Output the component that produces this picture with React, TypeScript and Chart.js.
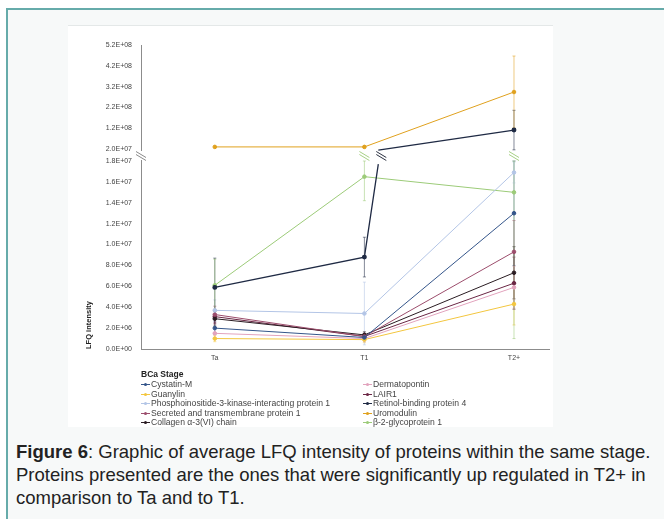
import React, { useEffect, useRef } from 'react';
import { Chart, registerables } from 'chart.js';

Chart.register(...registerables);

// ---------- data ----------
const stages = ['Ta', 'T1', 'T2+'];
const stagePositions = [0, 1, 2];
const lowTicks = [0, 2e6, 4e6, 6e6, 8e6, 1e7, 1.2e7, 1.4e7, 1.6e7, 1.8e7];
const highTicks = [2e7, 1.2e8, 2.2e8, 3.2e8, 4.2e8, 5.2e8];

const proteinNames = [
  'Cystatin-M',
  'Guanylin',
  'Phosphoinositide-3-kinase-interacting protein 1',
  'Secreted and transmembrane protein 1',
  'Collagen α-3(VI) chain',
  'Dermatopontin',
  'LAIR1',
  'Retinol-binding protein 4',
  'Uromodulin',
  'β-2-glycoprotein 1',
];
const proteinColors = [
  '#34558a',
  '#f3c63f',
  '#b3c5e6',
  '#9c4d6c',
  '#2a1c22',
  '#e2a3bd',
  '#6b2745',
  '#1f2a44',
  '#e0a11e',
  '#9ccb78',
];

const cystatinM = [2.0e6, 1.1e6, 13.0e6];
const guanylin = [1.0e6, 0.9e6, 4.3e6];
const pik3ip1 = [3.7e6, 3.4e6, 16.9e6];
const secretedTm1 = [3.3e6, 1.2e6, 9.3e6];
const collagenA3 = [2.9e6, 1.35e6, 7.3e6];
const dermatopontin = [1.5e6, 1.0e6, 5.9e6];
const lair1 = [3.1e6, 1.2e6, 6.3e6];
const retinolBP4 = [5.9e6, 8.8e6, 1.11e8];
const uromodulin = [3.0e7, 3.0e7, 2.94e8];
const beta2gp1 = [6.1e6, 16.5e6, 15.0e6];

const cystatinMErr = [0.6e6, 0.3e6, 5e6];
const guanylinErr = [0.3e6, 0.3e6, 2.0e6];
const pik3ip1Err = [1.0e6, 3.0e6, 1.0e6];
const secretedTm1Err = [0.8e6, 0.3e6, 3e6];
const collagenA3Err = [0.7e6, 0.3e6, 2.5e6];
const dermatopontinErr = [0.5e6, 0.3e6, 2e6];
const lair1Err = [0.7e6, 0.3e6, 2.5e6];
const retinolBP4Err = [2.8e6, 1.9e6, 0.95e8];
const uromodulinErr = [0, 0.6e7, 1.73e8];
const beta2gp1Err = [2.5e6, 2.3e6, 14e6];

// where the Retinol-binding protein 4 line crosses the axis break
const retinolBreakX = 1.093;
const retinolBreakLow = 1.77e7;
const retinolBreakHigh = 1.5e7;
const highClampMin = 1.5e7;

const seriesValues = [cystatinM, guanylin, pik3ip1, secretedTm1, collagenA3, dermatopontin, lair1, retinolBP4, uromodulin, beta2gp1];
const seriesErrors = [cystatinMErr, guanylinErr, pik3ip1Err, secretedTm1Err, collagenA3Err, dermatopontinErr, lair1Err, retinolBP4Err, uromodulinErr, beta2gp1Err];

const captionBold = 'Figure 6';
const captionText = ': Graphic of average LFQ intensity of proteins within the same stage. Proteins presented are the ones that were significantly up regulated in T2+ in comparison to Ta and to T1.';

const FONT = '"Liberation Sans", Arial, sans-serif';

function fmtExp(v: number): string {
  const s = v.toExponential(1).split('e');
  const sign = s[1][0];
  const digits = s[1].slice(1).padStart(2, '0');
  return s[0] + 'E' + sign + digits;
}

function alpha(hex: string, a: number): string {
  const r = parseInt(hex.slice(1, 3), 16);
  const g = parseInt(hex.slice(3, 5), 16);
  const b = parseInt(hex.slice(5, 7), 16);
  return `rgba(${r},${g},${b},${a})`;
}

function drawBreak(ctx: CanvasRenderingContext2D, x: number, y: number, color: string) {
  ctx.save();
  ctx.strokeStyle = color;
  ctx.lineWidth = 1;
  for (const dy of [-1.5, 1.5]) {
    ctx.beginPath();
    ctx.moveTo(x - 5, y + dy - 3);
    ctx.lineTo(x + 5, y + dy + 3);
    ctx.stroke();
  }
  ctx.restore();
}

const errorBarPlugin = {
  id: 'errorBars',
  beforeDatasetsDraw(chart: any) {
    const ctx = chart.ctx as CanvasRenderingContext2D;
    chart.data.datasets.forEach((ds: any, di: number) => {
      const errs = ds.errors as number[] | undefined;
      if (!errs) return;
      const meta = chart.getDatasetMeta(di);
      const ys = chart.scales[ds.yAxisID];
      const lo = ds.yAxisID === 'yHigh' ? highClampMin : ys.min;
      const hi = ys.max;
      ds.data.forEach((p: any, i: number) => {
        const e = errs[i];
        if (!e) return;
        const x = meta.data[i].x;
        const topV = Math.min(p.y + e, hi);
        const botV = Math.max(p.y - e, lo);
        const yT = ys.getPixelForValue(topV);
        const yB = ys.getPixelForValue(botV);
        ctx.save();
        ctx.strokeStyle = alpha(ds.borderColor, 0.55);
        ctx.lineWidth = 1;
        ctx.beginPath();
        ctx.moveTo(x, yT);
        ctx.lineTo(x, yB);
        ctx.moveTo(x - 1.5, yT);
        ctx.lineTo(x + 1.5, yT);
        ctx.moveTo(x - 1.5, yB);
        ctx.lineTo(x + 1.5, yB);
        ctx.stroke();
        ctx.restore();
        if (p.y + e > hi && ds.yAxisID === 'yLow') {
          drawBreak(ctx, x, yT - 5, alpha(ds.borderColor, 0.9));
        }
      });
    });
  },
};

const axisBreakPlugin = {
  id: 'axisBreak',
  afterDraw(chart: any) {
    const ctx = chart.ctx as CanvasRenderingContext2D;
    const yLow = chart.scales.yLow;
    const x = chart.chartArea.left;
    const yb = yLow.top;
    ctx.save();
    ctx.fillStyle = '#ffffff';
    ctx.fillRect(x - 2, yb - 10, 4, 9);
    ctx.restore();
    drawBreak(ctx, x, yb - 5, '#8a8a8a');
    const xs = chart.scales.x;
    drawBreak(ctx, xs.getPixelForValue(retinolBreakX) + 3, yb - 5, '#2a3040');
  },
};

export default function App() {
  const ref = useRef<HTMLCanvasElement | null>(null);

  useEffect(() => {
    if (!ref.current) return;
    const datasets: any[] = [];
    proteinNames.forEach((name, si) => {
      const vals = seriesValues[si];
      const errs = seriesErrors[si];
      const color = proteinColors[si];
      const base = {
        borderColor: color,
        backgroundColor: color,
        borderWidth: 1,
        pointRadius: 1.8,
        pointHoverRadius: 1.8,
        tension: 0,
      };
      if (name === 'Retinol-binding protein 4') {
        datasets.push({
          ...base,
          label: name,
          yAxisID: 'yLow',
          borderWidth: 1.3,
          data: [
            { x: stagePositions[0], y: vals[0] },
            { x: stagePositions[1], y: vals[1] },
            { x: retinolBreakX, y: retinolBreakLow },
          ],
          pointRadius: [1.8, 1.8, 0],
          errors: [errs[0], errs[1], 0],
        });
        datasets.push({
          ...base,
          label: name + ' ',
          yAxisID: 'yHigh',
          borderWidth: 1.3,
          data: [
            { x: retinolBreakX, y: retinolBreakHigh },
            { x: stagePositions[2], y: vals[2] },
          ],
          pointRadius: [0, 1.8],
          errors: [0, errs[2]],
        });
      } else {
        datasets.push({
          ...base,
          label: name,
          yAxisID: name === 'Uromodulin' ? 'yHigh' : 'yLow',
          data: stagePositions.map((x, i) => ({ x, y: vals[i] })),
          errors: errs,
        });
      }
    });

    const tickFont = { family: FONT, size: 7 };
    const chart = new Chart(ref.current, {
      type: 'line',
      data: { datasets },
      plugins: [errorBarPlugin, axisBreakPlugin],
      options: {
        animation: false,
        responsive: false,
        devicePixelRatio: 1,
        layout: { padding: { top: 19, right: 2, left: 0, bottom: 0 } },
        plugins: {
          legend: { display: false },
          tooltip: { enabled: false },
        },
        scales: {
          x: {
            type: 'linear',
            min: -0.4933,
            max: 2.24,
            afterBuildTicks: (s: any) => {
              s.ticks = stagePositions.map((v) => ({ value: v }));
            },
            afterFit: (s: any) => {
              s.height = 31;
            },
            ticks: {
              callback: (v: any) => {
                const i = stagePositions.indexOf(Number(v));
                return i >= 0 ? stages[i] : '';
              },
              font: tickFont,
              color: '#444',
              padding: 5,
              maxRotation: 0,
              autoSkip: false,
            },
            grid: { display: false, drawTicks: false },
            border: { color: '#8c8c8c', width: 1 },
            title: {
              display: true,
              text: 'BCa Stage',
              align: 'start',
              color: '#222',
              font: { family: FONT, size: 8.5, weight: 'bold' },
              padding: { top: 0, bottom: 0 },
            },
          },
          yLow: {
            type: 'linear',
            position: 'left',
            stack: 'y',
            stackWeight: 188,
            min: 0,
            max: 1.8e7,
            afterBuildTicks: (s: any) => {
              s.ticks = lowTicks.map((v) => ({ value: v }));
            },
            afterFit: (s: any) => {
              s.width = 73;
            },
            ticks: {
              callback: (v: any) => fmtExp(Number(v)),
              font: tickFont,
              color: '#444',
              padding: 9,
            },
            grid: { display: false, drawTicks: false },
            border: { color: '#8c8c8c', width: 1 },
            title: {
              display: true,
              text: 'LFQ intensity',
              align: 'start',
              color: '#222',
              font: { family: FONT, size: 7.5, weight: 'bold' },
              padding: { top: 16, bottom: 0 },
            },
          },
          yHigh: {
            type: 'linear',
            position: 'left',
            stack: 'y',
            stackWeight: 116,
            min: -3.77e7,
            max: 5.2e8,
            afterBuildTicks: (s: any) => {
              s.ticks = highTicks.map((v) => ({ value: v }));
            },
            afterFit: (s: any) => {
              s.width = 73;
            },
            ticks: {
              callback: (v: any) => fmtExp(Number(v)),
              font: tickFont,
              color: '#444',
              padding: 9,
            },
            grid: { display: false, drawTicks: false },
            border: { color: '#8c8c8c', width: 1 },
          },
        },
      } as any,
    });
    return () => chart.destroy();
  }, []);

  const legendRow = (si: number) => (
    <div key={si} style={{ height: 9.5, display: 'flex', alignItems: 'center' }}>
      <div style={{ position: 'relative', width: 9, height: 9.5, marginRight: 1 }}>
        <div style={{ position: 'absolute', left: 0, right: 0, top: 4.25, height: 1, background: proteinColors[si] }} />
        <div style={{ position: 'absolute', left: 3, top: 3.25, width: 3, height: 3, borderRadius: 2, background: proteinColors[si] }} />
      </div>
      <span style={{ whiteSpace: 'nowrap' }}>{proteinNames[si]}</span>
    </div>
  );

  return (
    <div style={{ position: 'fixed', left: 0, top: 0, width: 664, height: 519, overflow: 'hidden', background: '#ffffff' }}>
      <div
        style={{
          position: 'absolute',
          left: 6,
          top: 8,
          width: 720,
          height: 600,
          border: '2px solid #66abaa',
          background: '#f7f9f9',
          boxSizing: 'border-box',
        }}
      />
      <div
        style={{
          position: 'absolute',
          left: 68,
          top: 25,
          width: 485,
          height: 402,
          background: '#ffffff',
          borderTop: '1px solid #e4e8e8',
          boxSizing: 'border-box',
        }}
      >
        <canvas ref={ref} width={485} height={354} style={{ position: 'absolute', left: 0, top: 0, width: 485, height: 354 }} />
        <div
          style={{
            position: 'absolute',
            left: 73,
            top: 354,
            fontFamily: FONT,
            fontSize: 8.6,
            color: '#444',
            lineHeight: '9.5px',
          }}
        >
          {[0, 1, 2, 3, 4].map(legendRow)}
        </div>
        <div
          style={{
            position: 'absolute',
            left: 295,
            top: 354,
            fontFamily: FONT,
            fontSize: 8.6,
            color: '#444',
            lineHeight: '9.5px',
          }}
        >
          {[5, 6, 7, 8, 9].map(legendRow)}
        </div>
      </div>
      <div
        style={{
          position: 'absolute',
          left: 16,
          top: 440,
          width: 640,
          fontFamily: FONT,
          fontSize: 18.5,
          lineHeight: '23px',
          color: '#222',
        }}
      >
        <b>{captionBold}</b>
        {captionText}
      </div>
    </div>
  );
}
